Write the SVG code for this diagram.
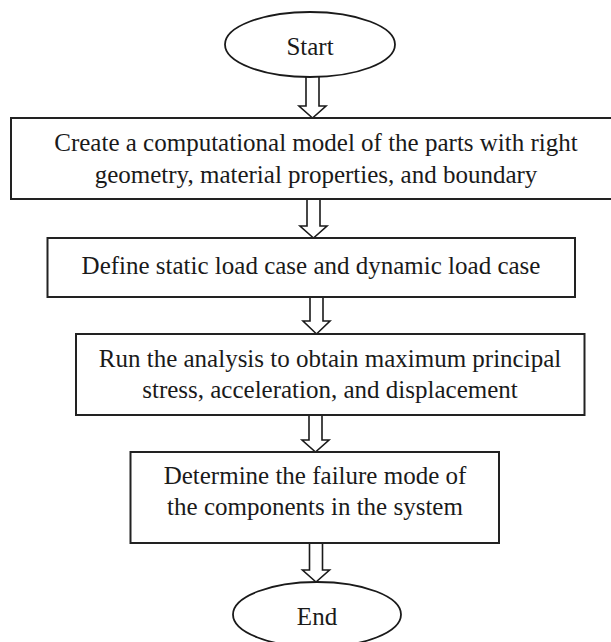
<svg xmlns="http://www.w3.org/2000/svg" width="611" height="642" viewBox="0 0 611 642">
<style>
.bg{fill:#fff}
.box{fill:#fff;stroke:#222;stroke-width:2}
.term{fill:#fff;stroke:#1a1a1a;stroke-width:1.8}
.arr{fill:#fff;stroke:#1a1a1a;stroke-width:1.6;stroke-linejoin:miter}
text{font-family:"Liberation Serif","Times New Roman",serif;font-size:25px;fill:#1a1a1a;text-anchor:middle}
</style>
<rect class="bg" x="0" y="0" width="611" height="642"/>
<g id="connectors">
<path class="arr" d="M306,77 V106 H299 L312.5,118 L326,106 H319 V77"/>
<path class="arr" d="M307,199 V226 H300 L313.5,238 L327,226 H320 V199"/>
<path class="arr" d="M310,297 V321 H303 L316.5,334 L330,321 H323 V297"/>
<path class="arr" d="M309,415 V440 H302 L315.5,452 L329,440 H322 V415"/>
<path class="arr" d="M309.5,543 V570 H302.5 L316,582 L329.5,570 H322.5 V543"/>
</g>
<g id="start">
<ellipse class="term" cx="310" cy="44.5" rx="85" ry="32.5"/>
<text x="310" y="55">Start</text>
</g>
<g id="model">
<rect class="box" x="11" y="118" width="610" height="81"/>
<text x="316" y="151">Create a computational model of the parts with right</text>
<text x="316" y="183">geometry, material properties, and boundary</text>
</g>
<g id="loadcase">
<rect class="box" x="47.5" y="238" width="527.5" height="59"/>
<text x="311" y="274">Define static load case and dynamic load case</text>
</g>
<g id="analysis">
<rect class="box" x="76" y="334" width="508.5" height="81"/>
<text x="330" y="367">Run the analysis to obtain maximum principal</text>
<text x="330" y="398">stress, acceleration, and displacement</text>
</g>
<g id="failure">
<rect class="box" x="130.5" y="452" width="368.5" height="91"/>
<text x="315" y="484">Determine the failure mode of</text>
<text x="315" y="515">the components in the system</text>
</g>
<g id="end">
<ellipse class="term" cx="317" cy="614.5" rx="84" ry="32.5"/>
<text x="317" y="625">End</text>
</g>
</svg>
